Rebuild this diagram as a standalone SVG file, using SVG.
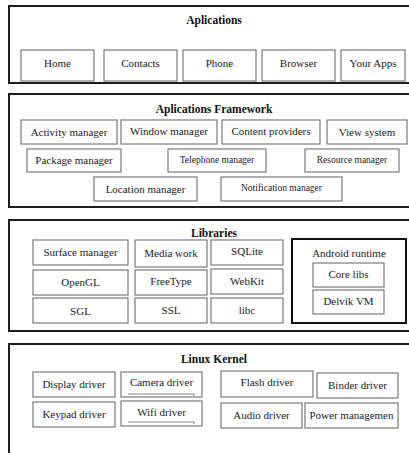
<svg xmlns="http://www.w3.org/2000/svg" width="409" height="453" viewBox="0 0 409 453">
<style>
.layer{fill:#fff;stroke:#1e1e1e;stroke-width:2}
.box{fill:#fff;stroke:#7a7a7a;stroke-width:1.2}
.rt{fill:#fff;stroke:#111;stroke-width:2}
.t{font-family:"Liberation Serif","Times New Roman",serif;font-size:11px;fill:#1a1a1a;text-anchor:middle}
.s{font-size:9.5px}
.h{font-family:"Liberation Serif","Times New Roman",serif;font-size:11.5px;font-weight:bold;fill:#111;text-anchor:middle}
.ul{stroke:#8a8a8a;stroke-width:1.2;fill:none}
</style>
<rect width="409" height="453" fill="#fff"/>

<g id="applications">
<rect class="layer" x="9" y="6" width="410" height="77"/>
<text class="h" x="214" y="24">Aplications</text>
<g id="home"><rect class="box" x="21" y="50" width="73" height="31"/><text class="t" x="57.5" y="67">Home</text></g>
<g id="contacts"><rect class="box" x="104" y="50" width="73" height="31"/><text class="t" x="140.5" y="67">Contacts</text></g>
<g id="phone"><rect class="box" x="183" y="50" width="73" height="31"/><text class="t" x="219.5" y="67">Phone</text></g>
<g id="browser"><rect class="box" x="262" y="50" width="73" height="31"/><text class="t" x="298.5" y="67">Browser</text></g>
<g id="yourapps"><rect class="box" x="341" y="50" width="64" height="31"/><text class="t" x="373" y="67">Your Apps</text></g>
</g>

<g id="framework">
<rect class="layer" x="9" y="94" width="410" height="113"/>
<text class="h" x="214" y="113">Aplications Framework</text>
<g id="activity"><rect class="box" x="21" y="120" width="96" height="24"/><text class="t" x="69" y="136">Activity manager</text></g>
<g id="window"><rect class="box" x="121" y="120" width="96" height="24"/><text class="t" x="169" y="135">Window manager</text></g>
<g id="content"><rect class="box" x="222" y="120" width="98" height="24"/><text class="t" x="271" y="135">Content providers</text></g>
<g id="view"><rect class="box" x="327" y="120" width="80" height="24"/><text class="t" x="367" y="136">View system</text></g>
<g id="package"><rect class="box" x="27" y="149" width="94" height="23"/><text class="t" x="74" y="164">Package manager</text></g>
<g id="telephone"><rect class="box" x="168" y="149" width="98" height="23"/><text class="t s" x="217" y="163">Telephone manager</text></g>
<g id="resource"><rect class="box" x="305" y="149" width="94" height="23"/><text class="t s" x="352" y="163">Resource manager</text></g>
<g id="location"><rect class="box" x="94" y="177" width="103" height="24"/><text class="t" x="145.5" y="193">Location manager</text></g>
<g id="notification"><rect class="box" x="221" y="177" width="121" height="24"/><text class="t s" x="281.5" y="191">Notification manager</text></g>
</g>

<g id="libraries">
<rect class="layer" x="9" y="220" width="410" height="111"/>
<text class="h" x="214" y="237">Libraries</text>
<g id="surface"><rect class="box" x="33" y="240" width="95" height="25"/><text class="t" x="80.5" y="256">Surface manager</text></g>
<g id="media"><rect class="box" x="135" y="240" width="72" height="27"/><text class="t" x="171" y="257">Media work</text></g>
<g id="sqlite"><rect class="box" x="211" y="240" width="72" height="25"/><text class="t" x="247" y="255">SQLite</text></g>
<g id="opengl"><rect class="box" x="33" y="270" width="95" height="25"/><text class="t" x="80.5" y="286">OpenGL</text></g>
<g id="freetype"><rect class="box" x="135" y="270" width="72" height="25"/><text class="t" x="171" y="285">FreeType</text></g>
<g id="webkit"><rect class="box" x="211" y="269" width="72" height="25"/><text class="t" x="247" y="285">WebKit</text></g>
<g id="sgl"><rect class="box" x="33" y="298" width="95" height="25"/><text class="t" x="80.5" y="315">SGL</text></g>
<g id="ssl"><rect class="box" x="135" y="298" width="72" height="25"/><text class="t" x="171" y="314">SSL</text></g>
<g id="libc"><rect class="box" x="211" y="298" width="72" height="25"/><text class="t" x="247" y="314">libc</text></g>
<g id="runtime">
<rect class="rt" x="292" y="239" width="114" height="84"/>
<text class="t" x="349" y="257">Android runtime</text>
<g id="corelibs"><rect class="box" x="313" y="263" width="71" height="24"/><text class="t" x="348.5" y="278">Core libs</text></g>
<g id="delvik"><rect class="box" x="313" y="290" width="71" height="24"/><text class="t" x="348.5" y="305">Delvik VM</text></g>
</g>
</g>

<g id="kernel">
<rect class="layer" x="9" y="344" width="410" height="120"/>
<text class="h" x="214" y="363">Linux Kernel</text>
<g id="display"><rect class="box" x="33" y="372" width="82" height="25"/><text class="t" x="74" y="388">Display driver</text></g>
<g id="camera"><rect class="box" x="121" y="372" width="81" height="25"/><text class="t" x="161.5" y="386">Camera driver</text><path class="ul" d="M128 394H194V396"/></g>
<g id="flash"><rect class="box" x="221" y="371" width="92" height="26"/><text class="t" x="267" y="386">Flash driver</text></g>
<g id="binder"><rect class="box" x="317" y="373" width="81" height="25"/><text class="t" x="357.5" y="389">Binder driver</text></g>
<g id="keypad"><rect class="box" x="33" y="402" width="82" height="25"/><text class="t" x="74" y="418">Keypad driver</text></g>
<g id="wifi"><rect class="box" x="121" y="401" width="81" height="25"/><text class="t" x="161.5" y="416">Wifi driver</text><path class="ul" d="M128 422H194V424"/></g>
<g id="audio"><rect class="box" x="221" y="403" width="81" height="25"/><text class="t" x="261.5" y="419">Audio driver</text></g>
<g id="power"><rect class="box" x="305" y="403" width="93" height="25"/><text class="t" x="351.5" y="419">Power managemen</text></g>
</g>

<g id="connectors"></g>
</svg>
